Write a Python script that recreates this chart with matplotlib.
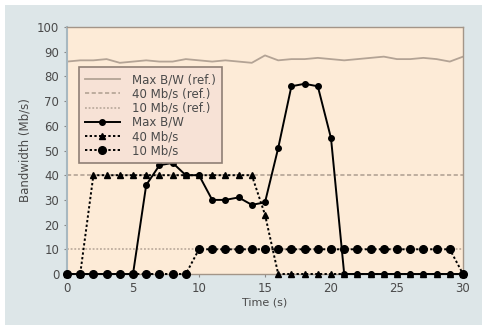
import numpy as np
import matplotlib
matplotlib.use("Agg")
import matplotlib.pyplot as plt
from matplotlib.patches import Rectangle

# ---------------- data ----------------
t = list(range(31))

maxbw_ref = [86.0, 86.5, 86.5, 87.0, 85.5, 86.0, 86.5, 86.0, 86.0, 87.0,
             86.5, 86.0, 86.5, 86.0, 85.5, 88.5, 86.5, 87.0, 87.0, 87.5,
             87.0, 86.5, 87.0, 87.5, 88.0, 87.0, 87.0, 87.5, 87.0, 86.0, 88.0]
ref_40 = 40
ref_10 = 10

maxbw = [0, 0, 0, 0, 0, 0, 36, 44, 45, 40, 40, 30, 30, 31, 28, 29,
         51, 76, 77, 76, 55, 0, 0, 0, 0, 0, 0, 0, 0, 0, 0]
flow_40 = [0, 0, 40, 40, 40, 40, 40, 40, 40, 40, 40, 40, 40, 40, 40, 24,
           0, 0, 0, 0, 0, 0, 0, 0, 0, 0, 0, 0, 0, 0, 0]
flow_10 = [0, 0, 0, 0, 0, 0, 0, 0, 0, 0, 10, 10, 10, 10, 10, 10,
           10, 10, 10, 10, 10, 10, 10, 10, 10, 10, 10, 10, 10, 10, 0]

x_ticks = [0, 5, 10, 15, 20, 25, 30]
y_ticks = [0, 10, 20, 30, 40, 50, 60, 70, 80, 90, 100]

# ---------------- style ----------------
BG_OUT = "#dde6e8"
BG_AX = "#fdebd7"
REF_C = "#b3a395"
TXT_C = "#4a4a4a"

plt.rcParams["font.family"] = ["DejaVu Sans"]

fig = plt.figure(figsize=(4.82, 3.25), dpi=100)
fig.patch.set_facecolor(BG_OUT)
# white strips on top and left (cropped page around the panel)
fig.patches.append(Rectangle((0, 1 - 5 / 325), 1, 5 / 325, transform=fig.transFigure,
                             facecolor="white", edgecolor="none", zorder=-10))
fig.patches.append(Rectangle((0, 0), 5 / 482, 1, transform=fig.transFigure,
                             facecolor="white", edgecolor="none", zorder=-10))

ax = fig.add_axes([67 / 482, 51 / 325, 396 / 482, 247 / 325])
ax.set_facecolor(BG_AX)

ax.plot(t, maxbw_ref, color=REF_C, lw=1.3, label="Max B/W (ref.)")
ax.axhline(ref_40, color=REF_C, lw=1.2, ls=(0, (2.5, 1.5)), label="40 Mb/s (ref.)")
ax.axhline(ref_10, color=REF_C, lw=1.1, ls=(0, (1.2, 1.2)), label="10 Mb/s (ref.)")

ax.plot(t, maxbw, color="black", lw=1.4, marker="o", ms=4,
        label="Max B/W", clip_on=False, zorder=5)
ax.plot(t, flow_40, color="black", lw=1.4, ls=(0, (1.2, 1.2)), marker="^", ms=4.5,
        label="40 Mb/s", clip_on=False, zorder=4)
ax.plot(t, flow_10, color="black", lw=1.4, ls=(0, (1.2, 1.2)), marker="o", ms=5.5,
        label="10 Mb/s", clip_on=False, zorder=3)

ax.set_xlim(0, 30)
ax.set_ylim(0, 100)
ax.set_xticks(x_ticks)
ax.set_yticks(y_ticks)
ax.tick_params(axis="both", labelsize=8.5, colors="#888888", labelcolor=TXT_C,
               length=2, width=0.8)
ax.set_xlabel("Time (s)", fontsize=8, color=TXT_C, labelpad=2)
ax.set_ylabel("Bandwidth (Mb/s)", fontsize=8.5, color=TXT_C, labelpad=4)

for side in ["top", "right", "bottom"]:
    ax.spines[side].set_color("#a39588")
    ax.spines[side].set_linewidth(1.0)
ax.spines["left"].set_color("#a8b8c0")
ax.spines["left"].set_linewidth(1.5)

leg = ax.legend(loc="upper left", bbox_to_anchor=(0.015, 0.86), fontsize=8.5,
                frameon=True, fancybox=False, handlelength=3.0, handletextpad=1.0,
                labelspacing=0.1, borderpad=0.5, labelcolor=TXT_C)
leg.get_frame().set_facecolor("#f7e2d6")
leg.get_frame().set_edgecolor("#8f7f75")
leg.get_frame().set_linewidth(1.2)
leg.get_frame().set_alpha(1.0)

fig.savefig("out.png", dpi=100)
